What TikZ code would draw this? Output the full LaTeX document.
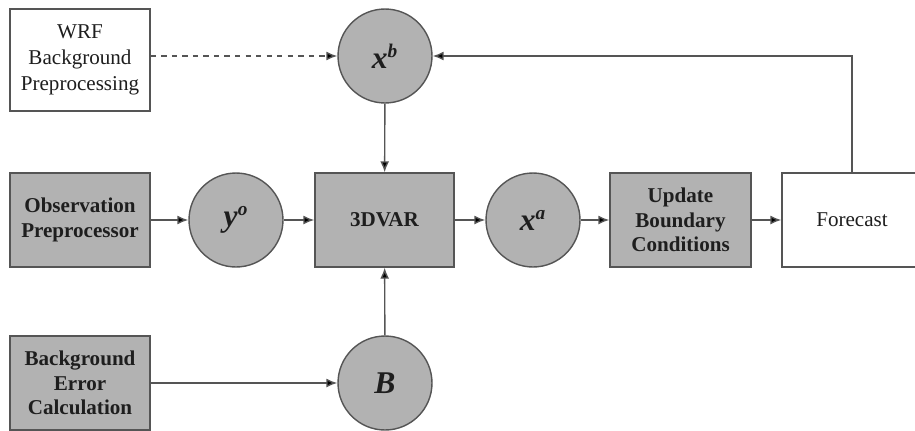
\documentclass[tikz,border=0pt]{standalone}
\usepackage{fontspec}
\usetikzlibrary{arrows.meta}
\setmainfont{Liberation Serif}
\definecolor{boxgray}{RGB}{178,178,178}
\definecolor{edgegray}{RGB}{85,85,85}
\definecolor{inkdark}{RGB}{30,30,30}
\newcommand{\varlbl}[2]{{\fontsize{18}{18}\selectfont\textbf{\textit{#1}}\textsuperscript{\fontsize{11}{11}\selectfont\textbf{\textit{#2}}}}}
\tikzset{
  procbox/.style={draw=edgegray, line width=0.8pt, fill=boxgray, text=inkdark,
    minimum width=2.8cm, minimum height=1.88cm, align=center,
    font=\fontsize{12}{14}\selectfont\bfseries},
  plainbox/.style={procbox, fill=white, font=\fontsize{12}{15}\selectfont},
  varcirc/.style={draw=edgegray, line width=0.8pt, fill=boxgray, text=inkdark,
    circle, minimum size=1.88cm, inner sep=0pt},
  flow/.style={-{Latex[length=2.2mm,width=1.8mm,fill=black]}, line width=0.8pt, draw=edgegray},
}
\begin{document}
\begin{tikzpicture}[x=0.02cm, y=-0.02cm]
  \useasboundingbox (0,0) rectangle (915,430);
  \node[plainbox, minimum height=2.04cm] at (80,60) (wrf) {WRF\\Background\\Preprocessing};
  \node[varcirc] at (385,56) (xb) {\varlbl{x}{b}};
  \node[procbox] at (80,220) (obs) {Observation\\Preprocessor};
  \node[varcirc] at (236,220) (yo) {\varlbl{y}{o}};
  \node[procbox, minimum width=2.78cm] at (384.5,220) (var) {3DVAR};
  \node[varcirc] at (533,220) (xa) {\varlbl{x}{a}};
  \node[procbox, minimum width=2.82cm] at (680.5,220) (upd) {Update\\Boundary\\Conditions};
  \node[plainbox] at (852,220) (fc) {Forecast};
  \node[procbox] at (80,383) (bec) {Background\\Error\\Calculation};
  \node[varcirc] at (385,383) (bb) {{\fontsize{18}{18}\selectfont\textbf{\textit{B}}}};
  \draw[flow, dashed] (wrf.east |- xb.west) -- (xb.west);
  \draw[flow] (xb) -- (var);
  \draw[flow] (obs) -- (yo);
  \draw[flow] (yo) -- (var);
  \draw[flow] (var) -- (xa);
  \draw[flow] (xa) -- (upd);
  \draw[flow] (upd) -- (fc);
  \draw[flow] (fc.north) |- (xb.east);
  \draw[flow] (bec) -- (bb);
  \draw[flow] (bb) -- (var);
\end{tikzpicture}
\end{document}
